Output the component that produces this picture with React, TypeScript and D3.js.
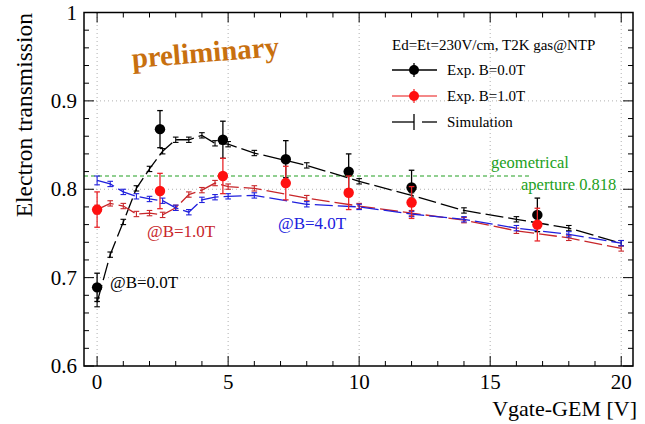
import React from "react";
import * as d3 from "d3";

const simX = [0, 0.5, 1, 1.5, 2, 2.5, 3, 3.5, 4, 4.5, 5, 6, 8, 10, 12, 14, 16, 18, 20];
const simB0 = [0.672, 0.726, 0.763, 0.801, 0.823, 0.843, 0.856, 0.856, 0.861, 0.852, 0.851, 0.841, 0.827, 0.809, 0.793, 0.776, 0.766, 0.756, 0.739];
const simB1 = [0.777, 0.784, 0.781, 0.772, 0.773, 0.771, 0.779, 0.794, 0.799, 0.807, 0.803, 0.801, 0.790, 0.781, 0.773, 0.765, 0.753, 0.745, 0.733];
const simB4 = [0.810, 0.806, 0.797, 0.792, 0.789, 0.787, 0.779, 0.774, 0.788, 0.791, 0.792, 0.793, 0.783, 0.780, 0.772, 0.766, 0.756, 0.749, 0.739];
const simErr = [0.005, 0.003, 0.003, 0.003, 0.003, 0.003, 0.003, 0.003, 0.003, 0.003, 0.003, 0.003, 0.003, 0.003, 0.003, 0.003, 0.003, 0.003, 0.003];

const expX = [0, 2.4, 4.8, 7.2, 9.6, 12, 16.8];
const expB0 = [0.689, 0.868, 0.856, 0.834, 0.820, 0.802, 0.771];
const expB0Err = [0.016, 0.021, 0.021, 0.021, 0.020, 0.0195, 0.019];
const expB1 = [0.777, 0.798, 0.815, 0.807, 0.796, 0.785, 0.760];
const expB1Err = [0.020, 0.020, 0.020, 0.019, 0.019, 0.018, 0.0185];

const xTicks = [0, 5, 10, 15, 20];
const yTicks = [0.6, 0.7, 0.8, 0.9, 1.0];
const apertureLine = 0.815;

const W = 645, H = 424;
const FONT = "'Liberation Serif', 'DejaVu Serif', serif";

export default function App() {
  const x = d3.scaleLinear().domain([-0.5, 20.45]).range([84, 633]);
  const y = d3.scaleLinear().domain([0.6, 1.0]).range([366, 12.5]);
  const [x0, x1] = x.range();
  const [y0, y1] = y.range();

  const line = d3.line<[number, number]>().x(d => x(d[0])).y(d => y(d[1]));

  const minorX = d3.range(0, 21, 1);
  const minorY = d3.range(0.6, 1.0001, 0.02);

  const simSeries = [
    { vals: simB0, color: "#000000" },
    { vals: simB1, color: "#c8262a" },
    { vals: simB4, color: "#2020dd" },
  ];

  const errBar = (cx: number, v: number, e: number, color: string, cap: number, key: string, w = 1.2) => (
    <g key={key} stroke={color} strokeWidth={w}>
      <line x1={cx} x2={cx} y1={y(v - e)} y2={y(v + e)} />
      <line x1={cx - cap} x2={cx + cap} y1={y(v - e)} y2={y(v - e)} />
      <line x1={cx - cap} x2={cx + cap} y1={y(v + e)} y2={y(v + e)} />
    </g>
  );

  return (
    <svg width={W} height={H} style={{ position: "absolute", left: 0, top: 0, background: "#fff", fontFamily: FONT }} fontFamily={FONT}>
      {/* grid */}
      <g stroke="#b0b0b0" strokeWidth={1} strokeDasharray="1,3">
        {xTicks.map(t => <line key={"gx" + t} x1={x(t)} x2={x(t)} y1={y0} y2={y1} />)}
        {yTicks.slice(1, 4).map(t => <line key={"gy" + t} x1={x0} x2={x1} y1={y(t)} y2={y(t)} />)}
      </g>

      {/* aperture line */}
      <line x1={x0} x2={x(16.5)} y1={y(apertureLine)} y2={y(apertureLine)} stroke="#22a022" strokeWidth={1.2} strokeDasharray="4,3" />
      <text x={491} y={168} fill="#22a022" fontSize={16.5}>geometrical</text>
      <text x={521} y={190} fill="#22a022" fontSize={16.5}>aperture 0.818</text>

      {/* simulation */}
      {simSeries.map((s, i) => (
        <g key={"sim" + i}>
          <path d={line(simX.map((xx, j) => [xx, s.vals[j]]) as [number, number][]) || ""} fill="none" stroke={s.color} strokeWidth={1.3} strokeDasharray="18,5" />
          {simX.map((xx, j) => errBar(x(xx), s.vals[j], simErr[j], s.color, 2.8, "se" + i + "_" + j, 1.1))}
        </g>
      ))}

      {/* experimental */}
      {expX.map((xx, j) => (
        <g key={"eb0" + j}>
          {errBar(x(xx), expB0[j], expB0Err[j], "#000", 2.8, "e0" + j, 1.3)}
          <circle cx={x(xx)} cy={y(expB0[j])} r={5.2} fill="#000" />
        </g>
      ))}
      {expX.map((xx, j) => (
        <g key={"eb1" + j}>
          {errBar(x(xx), expB1[j], expB1Err[j], "#e8262a", 2.8, "e1" + j, 1.3)}
          <circle cx={x(xx)} cy={y(expB1[j])} r={5.2} fill="#ff1010" />
        </g>
      ))}

      {/* annotations */}
      <text x={110} y={288} fontSize={17} fill="#000">@B=0.0T</text>
      <text x={147} y={237} fontSize={17} fill="#c8262a">@B=1.0T</text>
      <text x={278} y={229} fontSize={17} fill="#2020dd">@B=4.0T</text>

      <text transform="translate(206,62) rotate(-4.7)" textAnchor="middle" fontSize={29} fontWeight="bold" fill="#c8700f">preliminary</text>

      {/* legend */}
      <text x={392} y={50} fontSize={15} fill="#000">Ed=Et=230V/cm, T2K gas@NTP</text>
      <g>
        <line x1={392} x2={437} y1={70} y2={70} stroke="#000" strokeWidth={1.3} />
        <line x1={414} x2={414} y1={63} y2={77} stroke="#000" strokeWidth={1.3} />
        <circle cx={414} cy={70} r={5} fill="#000" />
        <text x={447} y={75} fontSize={15}>Exp. B=0.0T</text>
      </g>
      <g>
        <line x1={392} x2={437} y1={96} y2={96} stroke="#f06060" strokeWidth={1.3} />
        <line x1={414} x2={414} y1={89} y2={103} stroke="#f03030" strokeWidth={1.3} />
        <circle cx={414} cy={96} r={5} fill="#ff1010" />
        <text x={447} y={101} fontSize={15}>Exp. B=1.0T</text>
      </g>
      <g stroke="#000" strokeWidth={1.3}>
        <line x1={392} x2={414} y1={122} y2={122} />
        <line x1={414} x2={414} y1={114} y2={130} />
        <line x1={422} x2={437} y1={122} y2={122} />
      </g>
      <text x={447} y={127} fontSize={15}>Simulation</text>

      {/* frame */}
      <rect x={x0} y={y1} width={x1 - x0} height={y0 - y1} fill="none" stroke="#000" strokeWidth={1.5} />

      {/* ticks */}
      <g stroke="#000" strokeWidth={1}>
        {minorX.map(t => {
          const major = t % 5 === 0;
          const L = major ? 10 : 5;
          return (
            <g key={"tx" + t}>
              <line x1={x(t)} x2={x(t)} y1={y0} y2={y0 - L} />
              <line x1={x(t)} x2={x(t)} y1={y1} y2={y1 + L} />
            </g>
          );
        })}
        {minorY.map((t, i) => {
          const major = i % 5 === 0;
          const L = major ? 10 : 5;
          return (
            <g key={"ty" + i}>
              <line x1={x0} x2={x0 + L} y1={y(t)} y2={y(t)} />
              <line x1={x1} x2={x1 - L} y1={y(t)} y2={y(t)} />
            </g>
          );
        })}
      </g>

      {/* tick labels */}
      {xTicks.map(t => (
        <text key={"lx" + t} x={x(t)} y={389} textAnchor="middle" fontSize={21}>{t}</text>
      ))}
      {yTicks.map(t => (
        <text key={"ly" + t} x={77} y={y(t) + 7} textAnchor="end" fontSize={21}>{t === 1 ? "1" : t.toFixed(1)}</text>
      ))}

      {/* axis titles */}
      <text x={637} y={416} textAnchor="end" fontSize={22}>Vgate-GEM [V]</text>
      <text transform="translate(32,13) rotate(-90)" textAnchor="end" fontSize={23.5}>Electron transmission</text>
    </svg>
  );
}
